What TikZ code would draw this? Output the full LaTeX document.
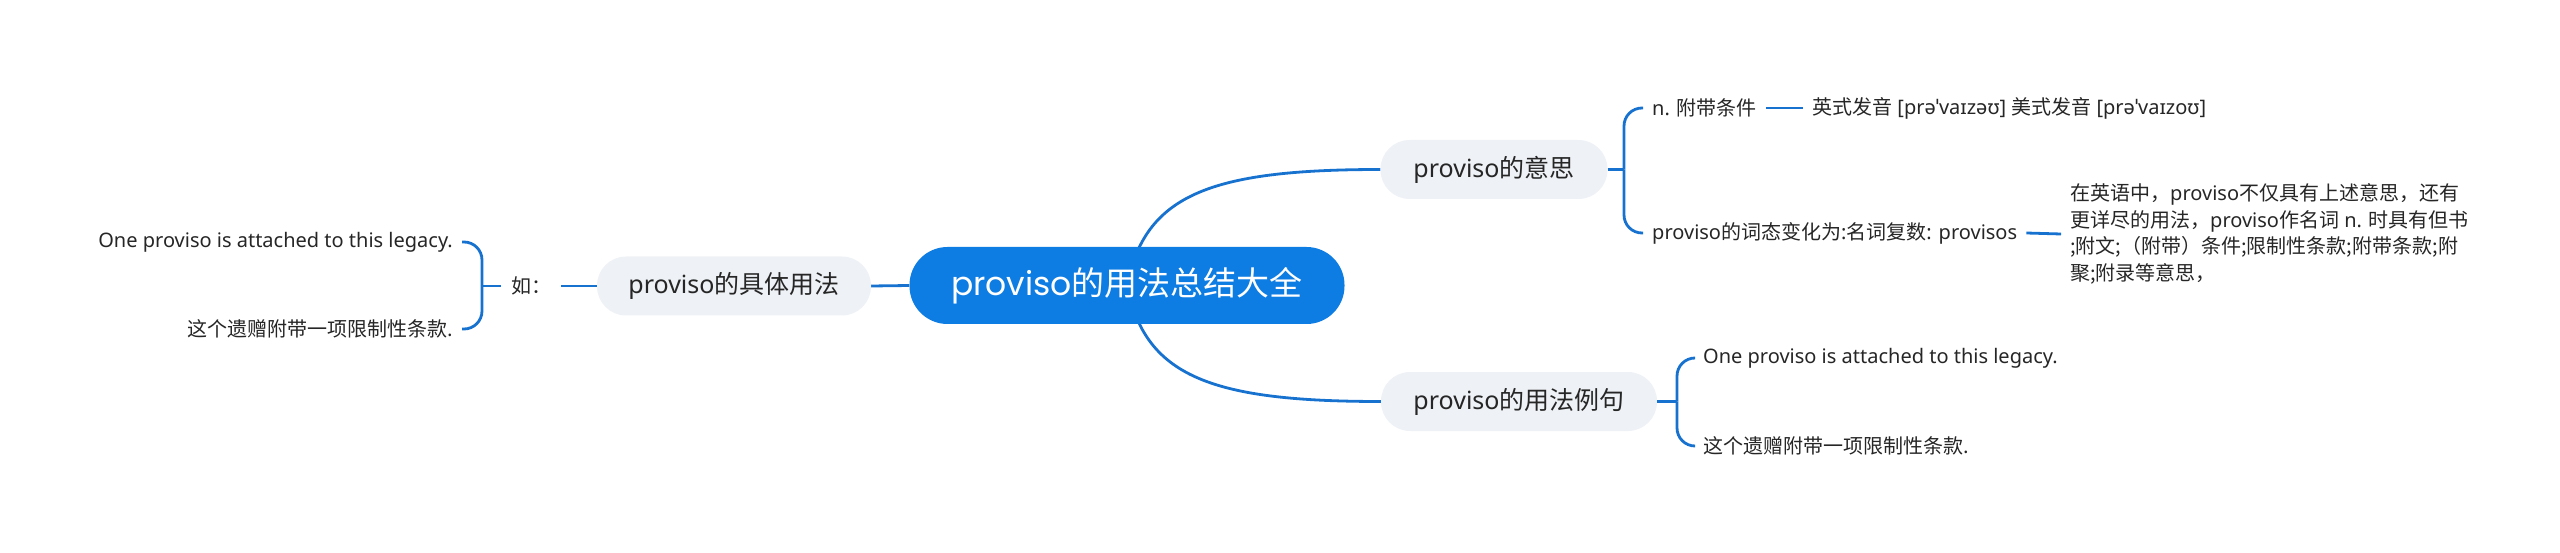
\documentclass[tikz,border=0pt]{standalone}
\usepackage{fontspec}
\setmainfont{Noto Sans}
\newfontfamily\cjkfont{Noto Sans CJK SC}
\newfontfamily\popfont{Poppins}
\newcommand\zhs[1]{{\cjkfont #1}}
\usetikzlibrary{backgrounds}
\definecolor{mainblue}{RGB}{13,124,227}
\definecolor{linkblue}{RGB}{22,113,207}
\definecolor{nodegray}{RGB}{238,241,245}
\definecolor{textdark}{RGB}{38,38,38}
\begin{document}
\begin{tikzpicture}[x=1pt,y=-1pt,
  central/.style={fill=mainblue, text=white, rounded corners=38pt, minimum width=435pt, minimum height=77pt, inner sep=0pt, font=\fontsize{33}{40}\selectfont},
  topic/.style={fill=nodegray, text=textdark, rounded corners=29pt, minimum height=59pt, inner sep=0pt, font=\fontsize{25}{30}\selectfont},
  leaf/.style={text=textdark, inner xsep=9pt, inner ysep=0pt, font=\fontsize{20}{26.7}\selectfont},
  link/.style={draw=linkblue, line width=2.8pt},
  brace/.style={link, rounded corners=18pt},
]
\useasboundingbox (0,0) rectangle (2560,553);
% main nodes
\node[central] (c) at (1127,285.5) {\popfont proviso\zhs{的用法总结大全}};
\node[topic, minimum width=274pt] (n1) at (734,286) {proviso\zhs{的具体用法}};
\node[topic, minimum width=227pt] (n2) at (1494,169.5) {proviso\zhs{的意思}};
\node[topic, minimum width=276pt] (n3) at (1519,401.5) {proviso\zhs{的用法例句}};
% left branch
\node[leaf, inner xsep=10pt] (ru) at (531,286) {\zhs{如：}};
\coordinate (J0) at (482,286);
\node[leaf, anchor=east] (la) at (462,242) {One proviso is attached to this legacy.};
\node[leaf, anchor=east] (lb) at (462,329) {\zhs{这个遗赠附带一项限制性条款.}};
% upper right branch
\coordinate (J1) at (1624,169.5);
\node[leaf, anchor=west] (a1) at (1643,108) {n. \zhs{附带条件}};
\node[leaf, anchor=west] (a1b) at (1803,108) {\zhs{英式发音} [prəˈvaɪzəʊ] \zhs{美式发音} [prəˈvaɪzoʊ]};
\node[leaf, anchor=west] (a2) at (1643,233) {proviso\zhs{的词态变化为}:\zhs{名词复数}: provisos};
\node[leaf, anchor=west, align=left] (a2b) at (2061,234) {\zhs{在英语中，}proviso\zhs{不仅具有上述意思，还有}\\
\zhs{更详尽的用法，}proviso\zhs{作名词} n. \zhs{时具有但书}\\
\zhs{;附文;（附带）条件;限制性条款;附带条款;附}\\
\zhs{聚;附录等意思，}};
% lower right branch
\coordinate (J2) at (1677,401.5);
\node[leaf, anchor=west] (b1) at (1694,358) {One proviso is attached to this legacy.};
\node[leaf, anchor=west] (b2) at (1694,446) {\zhs{这个遗赠附带一项限制性条款.}};
% connectors
\begin{pgfonlayer}{background}
\draw[link] (c.center) .. controls +(18,-90) and +(-172,0) .. (n2.west);
\draw[link] (c.center) .. controls +(18,90) and +(-172,0) .. (n3.west);
\draw[link] (c.west) -- (n1.east);
\end{pgfonlayer}
\draw[link] (n1.west) -- (ru.east);
\draw[link] (ru.west) -- (J0);
\draw[brace] (J0) |- (la.east);
\draw[brace] (J0) |- (lb.east);
\draw[link] (n2.east) -- (J1);
\draw[brace] (J1) |- (a1.west);
\draw[brace] (J1) |- (a2.west);
\draw[link] (a1.east) -- (a1b.west);
\draw[link] (a2.east) -- (a2b.west);
\draw[link] (n3.east) -- (J2);
\draw[brace] (J2) |- (b1.west);
\draw[brace] (J2) |- (b2.west);
\end{tikzpicture}
\end{document}
